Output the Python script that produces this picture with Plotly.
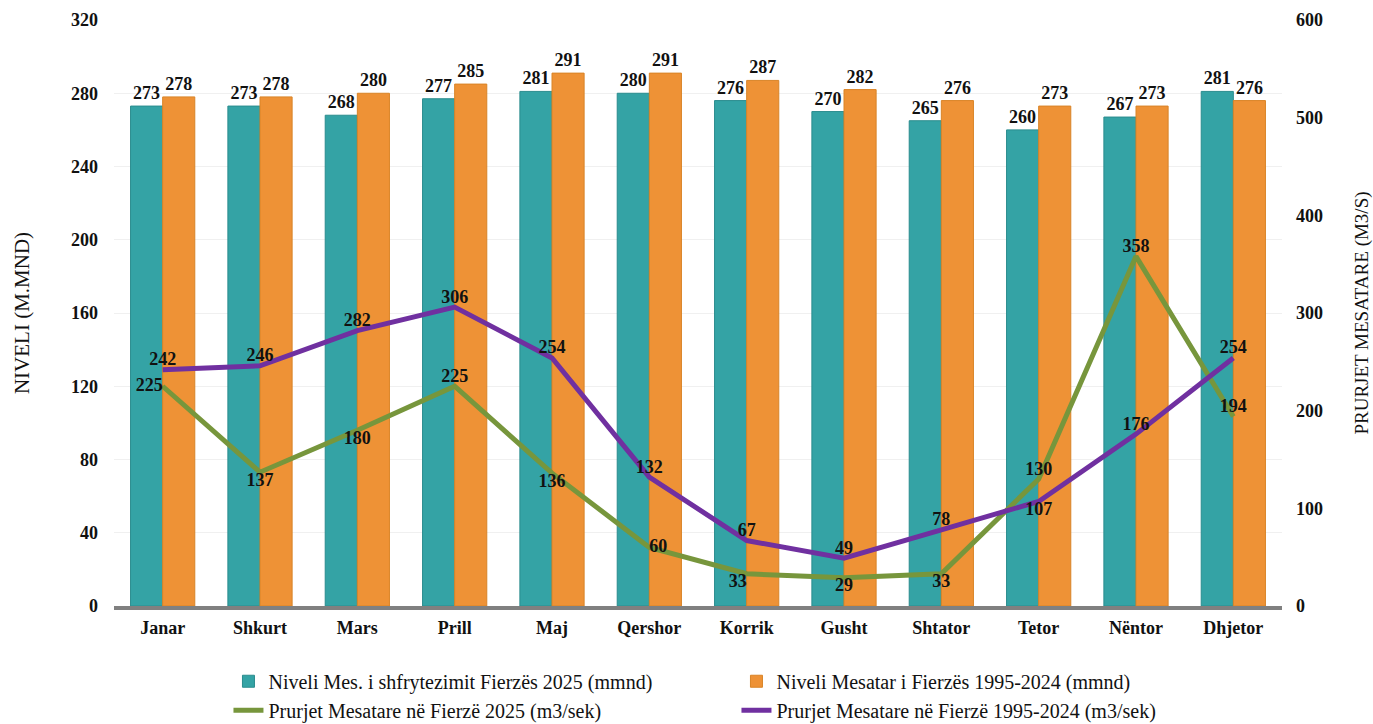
import plotly.graph_objects as go

months = ["Janar", "Shkurt", "Mars", "Prill", "Maj", "Qershor", "Korrik", "Gusht",
          "Shtator", "Tetor", "Nëntor", "Dhjetor"]
niveli_2025 = [273, 273, 268, 277, 281, 280, 276, 270, 265, 260, 267, 281]
niveli_mes = [278, 278, 280, 285, 291, 291, 287, 282, 276, 273, 273, 276]
prurje_2025 = [225, 137, 180, 225, 136, 60, 33, 29, 33, 130, 358, 194]
prurje_mes = [242, 246, 282, 306, 254, 132, 67, 49, 78, 107, 176, 254]

pos_2025 = ["middle left", "bottom center", "bottom center", "top center", "bottom center",
            "middle right", "bottom left", "bottom center", "bottom center", "top center",
            "top center", "top center"]
pos_mes = ["top center", "top center", "top center", "top center", "top center",
           "top center", "top center", "top center", "top center", "bottom center",
           "top center", "top center"]

FONT = "'Liberation Serif', 'Times New Roman', Times, serif"
lbl = dict(family=FONT, size=18, color="#111", weight="bold")
tickf = dict(family=FONT, size=18, color="#111", weight="bold")

fig = go.Figure()
fig.add_trace(go.Bar(
    x=months, y=niveli_2025, name="Niveli Mes. i shfrytezimit Fierzës 2025 (mmnd)",
    marker=dict(color="#34A3A5", line=dict(color="#2A8C8E", width=1)),
    text=niveli_2025, textposition="outside", textfont=lbl, cliponaxis=False))
fig.add_trace(go.Bar(
    x=months, y=niveli_mes, name="Niveli Mesatar i Fierzës 1995-2024 (mmnd)",
    marker=dict(color="#EE9236", line=dict(color="#D98427", width=1)),
    text=niveli_mes, textposition="outside", textfont=lbl, cliponaxis=False))
fig.add_trace(go.Scatter(
    x=months, y=prurje_2025, yaxis="y2", mode="lines+text",
    name="Prurjet Mesatare në Fierzë 2025 (m3/sek)",
    line=dict(color="#77963C", width=5), text=prurje_2025,
    textposition=pos_2025, textfont=lbl, cliponaxis=False))
fig.add_trace(go.Scatter(
    x=months, y=prurje_mes, yaxis="y2", mode="lines+text",
    name="Prurjet Mesatare në Fierzë 1995-2024 (m3/sek)",
    line=dict(color="#7030A0", width=5), text=prurje_mes,
    textposition=pos_mes, textfont=lbl, cliponaxis=False))

fig.update_layout(
    width=1373, height=724,
    margin=dict(l=114, r=91, t=20, b=118, autoexpand=False),
    paper_bgcolor="white", plot_bgcolor="white",
    barmode="group", bargap=0.34, bargroupgap=0,
    font=dict(family=FONT, size=18, color="#111"),
    xaxis=dict(showline=True, linecolor="#808080", linewidth=4,
               range=[-0.5, len(months) - 0.5],
               tickfont=tickf, ticks="", showgrid=False, automargin=False,
               ticklabelstandoff=2),
    yaxis=dict(range=[0, 320], dtick=40, showgrid=True, gridcolor="#F0F0F0",
               zeroline=False, ticks="", tickfont=tickf, automargin=False,
               ticklabelstandoff=15,
               title=dict(text="NIVELI (M.MND)", font=dict(family=FONT, size=21, color="#111"),
                          standoff=35)),
    yaxis2=dict(range=[0, 600], dtick=100, overlaying="y", side="right",
                showgrid=False, zeroline=False, ticks="", tickfont=tickf,
                automargin=False, ticklabelstandoff=13,
                title=dict(text="PRURJET MESATARE (M3/S)",
                           font=dict(family=FONT, size=19, color="#111"), standoff=40)),
    legend=dict(orientation="h", xref="container", yref="container",
                x=0.1664, xanchor="left", y=0.086, yanchor="top",
                entrywidth=463, entrywidthmode="pixels", tracegroupgap=0,
                font=dict(family=FONT, size=20, color="#111"), traceorder="normal"),
    showlegend=True,
)
fig.write_html("out.html", config={"displayModeBar": False},
               post_script="document.body.style.margin='0px';document.body.style.overflow='hidden';")
